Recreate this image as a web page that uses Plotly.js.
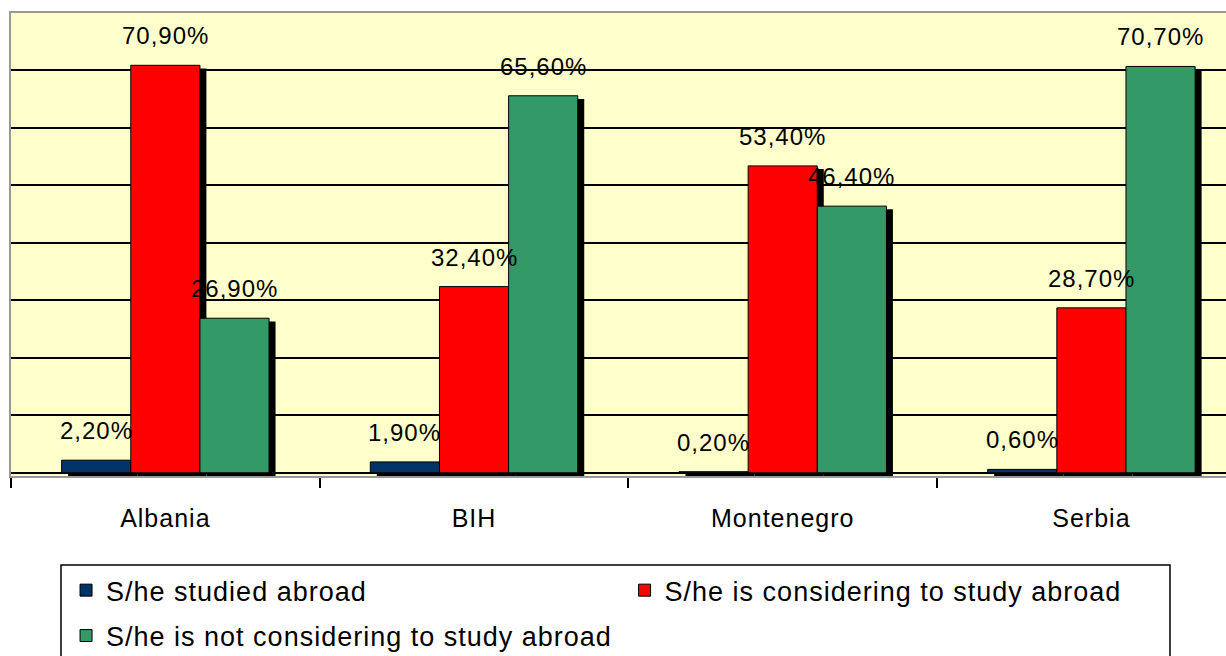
<!DOCTYPE html>
<html>
<head>
<meta charset="utf-8">
<script src="https://cdn.plot.ly/plotly-3.0.1.min.js"></script>
<style>
  html, body { margin: 0; padding: 0; background: #ffffff; overflow: hidden; }
  #chart { width: 1226px; height: 656px; }
  svg text { letter-spacing: 1px; }
</style>
</head>
<body>
<div id="chart"></div>
<script>
// ---- Data ----
const categories = ['Albania', 'BIH', 'Montenegro', 'Serbia'];
const studiedAbroad = [2.2, 1.9, 0.2, 0.6];
const consideringAbroad = [70.9, 32.4, 53.4, 28.7];
const notConsideringAbroad = [26.9, 65.6, 46.4, 70.7];
const seriesNames = [
  'S/he studied abroad',
  'S/he is considering to study abroad',
  'S/he is not considering to study abroad'
];
const seriesColors = ['#003366', '#FF0000', '#339966'];
const yGridValues = [10, 20, 30, 40, 50, 60, 70];

// ---- Layout helpers ----
const FONT = 'Liberation Sans, Arial, sans-serif';
const seriesValues = [studiedAbroad, consideringAbroad, notConsideringAbroad];
const barWidth = 0.224;
const barOffsets = [-0.336, -0.112, 0.112];
const shadowShift = 0.021;
const shadowBase = -0.55;
const xIdx = categories.map((c, i) => i);
const fmt = v => v.toFixed(2).replace('.', ',') + '%';

const traces = [];
// shadows first (drawn behind the bars)
seriesValues.forEach((vals, s) => {
  traces.push({
    type: 'bar', x: xIdx, y: vals, base: shadowBase,
    width: barWidth, offset: barOffsets[s] + shadowShift,
    marker: { color: '#000000', line: { width: 0 } },
    showlegend: false, hoverinfo: 'skip'
  });
});
const legendIds = ['legend', 'legend2', 'legend3'];
seriesValues.forEach((vals, s) => {
  traces.push({
    type: 'bar', x: xIdx, y: vals, name: seriesNames[s],
    width: barWidth, offset: barOffsets[s],
    marker: { color: seriesColors[s], line: { color: '#000000', width: 1 } },
    legend: legendIds[s],
    text: vals.map(fmt), textposition: 'none',
    hovertemplate: '%{text}<extra>' + seriesNames[s] + '</extra>'
  });
});

const annotations = [];
seriesValues.forEach((vals, s) => {
  vals.forEach((v, i) => {
    annotations.push({
      x: i + barOffsets[s] + barWidth / 2, y: v, xref: 'x', yref: 'y',
      text: fmt(v), showarrow: false, yanchor: 'bottom', xanchor: 'center',
      yshift: 14, font: { family: FONT, size: 24, color: '#000000' }
    });
  });
});

const legendFont = { family: FONT, size: 27, color: '#000000' };
const legendBase = { bgcolor: 'rgba(0,0,0,0)', borderwidth: 0, xanchor: 'left', yanchor: 'middle', font: legendFont, orientation: 'v' };

const layout = {
  width: 1226, height: 656,
  margin: { l: 11, r: 0, t: 13, b: 180, autoexpand: false },
  paper_bgcolor: '#ffffff',
  plot_bgcolor: '#FFFFCC',
  barmode: 'overlay',
  showlegend: true,
  font: { family: FONT, color: '#000000' },
  xaxis: {
    type: 'linear', range: [-0.5, 3.436],
    tickvals: xIdx, ticktext: categories,
    ticks: 'outside', ticklen: 19, tickcolor: 'rgba(0,0,0,0)',
    tickfont: { family: FONT, size: 25, color: '#000000' },
    showgrid: false, zeroline: false,
    showline: true, linecolor: '#999999', linewidth: 2, mirror: true,
    minor: { tickvals: [-0.5, 0.5, 1.5, 2.5, 3.5], ticks: 'outside', ticklen: 10, tickwidth: 2, tickcolor: '#000000', showgrid: false },
    fixedrange: true
  },
  yaxis: {
    range: [shadowBase, 80],
    tickvals: yGridValues, showticklabels: false, ticks: '',
    showgrid: true, gridcolor: '#000000', gridwidth: 2,
    zeroline: true, zerolinecolor: '#000000', zerolinewidth: 2,
    showline: true, linecolor: '#999999', linewidth: 2, mirror: true,
    fixedrange: true
  },
  legend: Object.assign({}, legendBase, { x: 0.0453, y: -0.2475 }),
  legend2: Object.assign({}, legendBase, { x: 0.505, y: -0.2475 }),
  legend3: Object.assign({}, legendBase, { x: 0.0453, y: -0.3455 }),
  shapes: [{
    type: 'rect', xref: 'paper', yref: 'paper',
    x0: 0.04115, x1: 0.9539, y0: -0.1922, y1: -0.40,
    line: { color: '#000000', width: 1.5 }, fillcolor: 'rgba(0,0,0,0)'
  }],
  annotations: annotations
};

Plotly.newPlot('chart', traces, layout, { displayModeBar: false, responsive: false });
</script>
</body>
</html>
